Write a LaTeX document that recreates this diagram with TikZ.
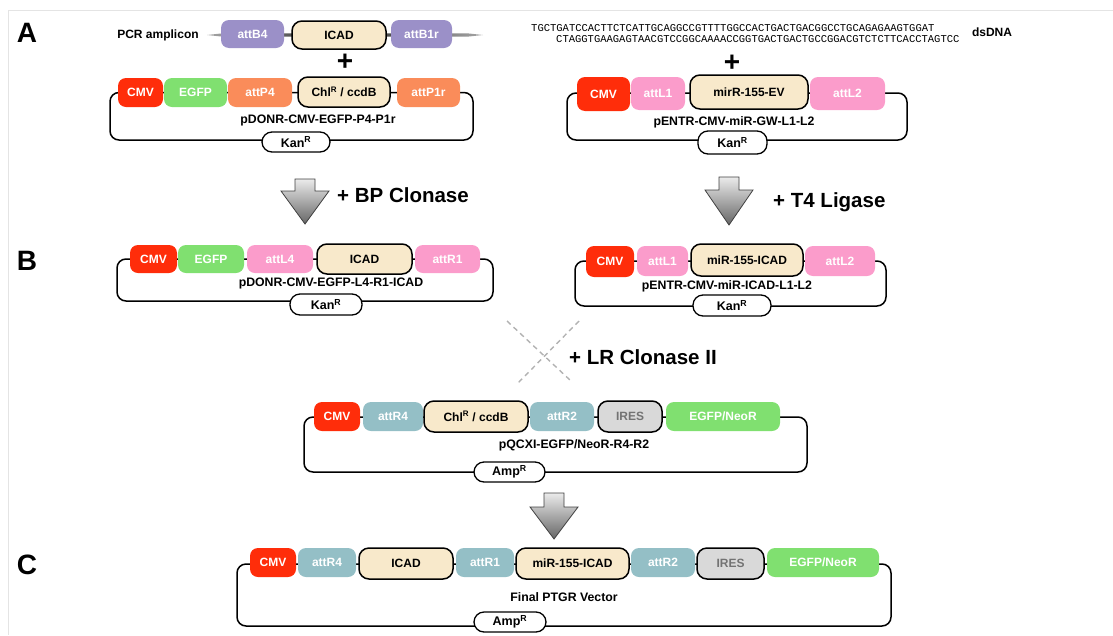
\documentclass[tikz,border=0pt]{standalone}
\usepackage{fontspec}
\setmainfont{Liberation Sans}
\setmonofont{Liberation Mono}
\definecolor{cmvred}{HTML}{FF2D0A}
\definecolor{egfpgreen}{HTML}{80E070}
\definecolor{attporange}{HTML}{FA8C5A}
\definecolor{attbpurple}{HTML}{9B90C8}
\definecolor{beige}{HTML}{F8E9CB}
\definecolor{attlpink}{HTML}{FB9CCB}
\definecolor{attrteal}{HTML}{94BFC6}
\definecolor{iresgray}{HTML}{D9D9D9}
\definecolor{framegray}{HTML}{E4E4E4}
\newcommand\genebox[7]{\node[#6, minimum width={#3pt-#2pt}, minimum height={#5pt-#4pt}] (#1) at ({(#2+#3)/2},{(#4+#5)/2}) {#7};}
\newcommand\blockarrow[5]{% center x, top, head base, tip, name
  \draw[blockarrowstyle] ({#1-10},#2) -- ({#1+10},#2) -- ({#1+10},#3) -- ({#1+24},#3) -- (#1,#4) -- ({#1-24},#3) -- ({#1-10},#3) -- cycle;
  \coordinate (#5) at (#1,#4);}
\tikzset{
  gene/.style={rounded corners=8pt, inner sep=0pt, font=\bfseries\fontsize{12}{14}\selectfont, text=white},
  cmv/.style={gene, fill=cmvred},
  egfp/.style={gene, fill=egfpgreen},
  attp/.style={gene, fill=attporange},
  attb/.style={gene, fill=attbpurple},
  attl/.style={gene, fill=attlpink},
  attr/.style={gene, fill=attrteal},
  insertbox/.style={gene, fill=beige, draw=black, line width=1.5pt, text=black, rounded corners=10pt},
  iresbox/.style={gene, fill=iresgray, draw=black, line width=1.5pt, text=black!55, rounded corners=10pt},
  marker/.style={rounded corners=10pt, inner sep=0pt, fill=white, draw=black, line width=1.3pt, font=\bfseries\fontsize{12.5}{14}\selectfont},
  backbone/.style={draw=black, line width=1.5pt, rounded corners=9pt},
  plasmidname/.style={inner sep=0pt, font=\bfseries\fontsize{12.3}{14}\selectfont},
  panel/.style={inner sep=0pt, font=\bfseries\fontsize{28}{30}\selectfont},
  reaction/.style={inner sep=0pt, anchor=west, font=\bfseries\fontsize{20.5}{24}\selectfont},
  plussign/.style={inner sep=0pt, font=\bfseries\fontsize{28}{28}\selectfont},
  seq/.style={inner sep=0pt, anchor=west, font=\ttfamily\fontsize{10.5}{12}\selectfont},
  blockarrowstyle/.style={draw=black!75, line width=0.8pt, top color=black!8, bottom color=black!60},
  crossline/.style={draw=black!30, line width=1.4pt, dash pattern=on 5pt off 4pt},
}
\begin{document}
\begin{tikzpicture}[x=1pt,y=-1pt]
\useasboundingbox (0,0) rectangle (1113,635);
\draw[framegray, line width=1pt] (8,635) -- (8,10) -- (1113,10);

% panel letters
\node[panel] (pA) at (27,33) {A};
\node[panel] (pB) at (27,261) {B};
\node[panel] (pC) at (27,565) {C};

% ---------- A left: PCR amplicon ----------
\node[inner sep=0pt, font=\bfseries\fontsize{12}{14}\selectfont] (pcr) at (158,35) {PCR amplicon};
\shade[left color=black!35, right color=black!35, middle color=black!85] (207,35) -- (222,33.4) -- (468,33.4) -- (483,35) -- (468,36.6) -- (222,36.6) -- cycle;
\genebox{attBfour}{221}{284}{20}{48}{attb}{attB4}
\genebox{icadA}{292}{386}{21}{49}{insertbox}{ICAD}
\genebox{attBoner}{391}{452}{20}{48}{attb}{attB1r}
\node[plussign] (plusA) at (345,62) {+};

% pDONR-CMV-EGFP-P4-P1r
\draw[backbone] (110,92.5) rectangle (473,140);
\genebox{cmvA}{118}{163}{78}{107}{cmv}{CMV}
\genebox{egfpA}{164}{227}{78}{107}{egfp}{EGFP}
\genebox{attPfour}{228}{292}{78}{107}{attp}{attP4}
\genebox{chlA}{298}{390}{77}{107}{insertbox}{Chl\textsuperscript{R} / ccdB}
\genebox{attPoner}{397}{460}{78}{107}{attp}{attP1r}
\node[plasmidname] (nameA) at (318,120) {pDONR-CMV-EGFP-P4-P1r};
\genebox{kanA}{262}{330}{132}{152}{marker}{Kan\textsuperscript{R}}

% ---------- A right: dsDNA ----------
\node[seq] (seqtop) at (531,28) {TGCTGATCCACTTCTCATTGCAGGCCGTTTTGGCCACTGACTGACGGCCTGCAGAGAAGTGGAT};
\node[seq] (seqbot) at (556,39.5) {CTAGGTGAAGAGTAACGTCCGGCAAAACCGGTGACTGACTGCCGGACGTCTCTTCACCTAGTCC};
\node[inner sep=0pt, font=\bfseries\fontsize{12}{14}\selectfont] (dsdna) at (992,32) {dsDNA};
\node[plussign] (plusB) at (732,63) {+};

% pENTR-CMV-miR-GW-L1-L2
\draw[backbone] (567,93) rectangle (907,140);
\genebox{cmvE}{577}{630}{77}{111}{cmv}{CMV}
\genebox{attLoneE}{631}{685}{77}{110}{attl}{attL1}
\genebox{mirEV}{690}{808}{75}{109}{insertbox}{mirR-155-EV}
\genebox{attLtwoE}{810}{885}{77}{110}{attl}{attL2}
\node[plasmidname] (nameE) at (734,122) {pENTR-CMV-miR-GW-L1-L2};
\genebox{kanE}{698}{767}{131}{154}{marker}{Kan\textsuperscript{R}}

% ---------- arrows ----------
\blockarrow{305}{179}{191}{224}{bpTip}
\node[reaction] (bp) at (337,195) {+ BP Clonase};
\blockarrow{729}{177}{190}{225}{t4Tip}
\node[reaction] (t4) at (773,202) {+ T4 Ligase};

% ---------- B left ----------
\draw[backbone] (117,259) rectangle (493,301);
\genebox{cmvB}{130}{177}{245}{273}{cmv}{CMV}
\genebox{egfpB}{178}{244}{245}{273}{egfp}{EGFP}
\genebox{attLfour}{247}{313}{245}{273}{attl}{attL4}
\genebox{icadB}{317}{412}{244}{274}{insertbox}{ICAD}
\genebox{attRoneB}{415}{480}{245}{273}{attl}{attR1}
\node[plasmidname] (nameB) at (331,283) {pDONR-CMV-EGFP-L4-R1-ICAD};
\genebox{kanB}{290}{362}{294}{315}{marker}{Kan\textsuperscript{R}}

% ---------- B right ----------
\draw[backbone] (575,261) rectangle (886,306);
\genebox{cmvBr}{586}{634}{246}{277}{cmv}{CMV}
\genebox{attLoneB}{637}{688}{246}{276}{attl}{attL1}
\genebox{mirB}{691}{803}{244}{276}{insertbox}{miR-155-ICAD}
\genebox{attLtwoB}{805}{875}{246}{276}{attl}{attL2}
\node[plasmidname] (nameBr) at (727,286) {pENTR-CMV-miR-ICAD-L1-L2};
\genebox{kanBr}{693}{771}{295}{316}{marker}{Kan\textsuperscript{R}}

% ---------- LR cross ----------
\coordinate (xa1) at (507,321);
\coordinate (xa2) at (571,381);
\coordinate (xb1) at (579,321);
\coordinate (xb2) at (518,383);
\draw[crossline] (xa1) -- (xa2);
\draw[crossline] (xb1) -- (xb2);
\node[reaction] (lr) at (569,357) {+ LR Clonase II};

% ---------- pQCXI ----------
\draw[backbone] (304,417) rectangle (807,472);
\genebox{cmvQ}{314}{360}{402}{431}{cmv}{CMV}
\genebox{attRfourQ}{363}{423}{402}{431}{attr}{attR4}
\genebox{chlQ}{424}{528}{401}{432}{insertbox}{Chl\textsuperscript{R} / ccdB}
\genebox{attRtwoQ}{530}{594}{402}{431}{attr}{attR2}
\genebox{iresQ}{598}{662}{401}{432}{iresbox}{IRES}
\genebox{neoQ}{666}{780}{402}{431}{egfp}{EGFP/NeoR}
\node[plasmidname] (nameQ) at (574,445) {pQCXI-EGFP/NeoR-R4-R2};
\genebox{ampQ}{474}{545}{462}{482}{marker}{Amp\textsuperscript{R}}

\blockarrow{554}{493}{507}{539}{lrTip}

% ---------- C ----------
\draw[backbone] (237,564) rectangle (891,626);
\genebox{cmvC}{250}{296}{548}{577}{cmv}{CMV}
\genebox{attRfourC}{298}{356}{548}{577}{attr}{attR4}
\genebox{icadC}{359}{453}{548}{579}{insertbox}{ICAD}
\genebox{attRoneC}{456}{514}{548}{577}{attr}{attR1}
\genebox{mirC}{516}{629}{548}{579}{insertbox}{miR-155-ICAD}
\genebox{attRtwoC}{631}{695}{548}{577}{attr}{attR2}
\genebox{iresC}{697}{764}{548}{579}{iresbox}{IRES}
\genebox{neoC}{767}{879}{548}{577}{egfp}{EGFP/NeoR}
\node[plasmidname] (nameC) at (564,597) {Final PTGR Vector};
\genebox{ampC}{474}{546}{612}{632}{marker}{Amp\textsuperscript{R}}
\end{tikzpicture}
\end{document}
